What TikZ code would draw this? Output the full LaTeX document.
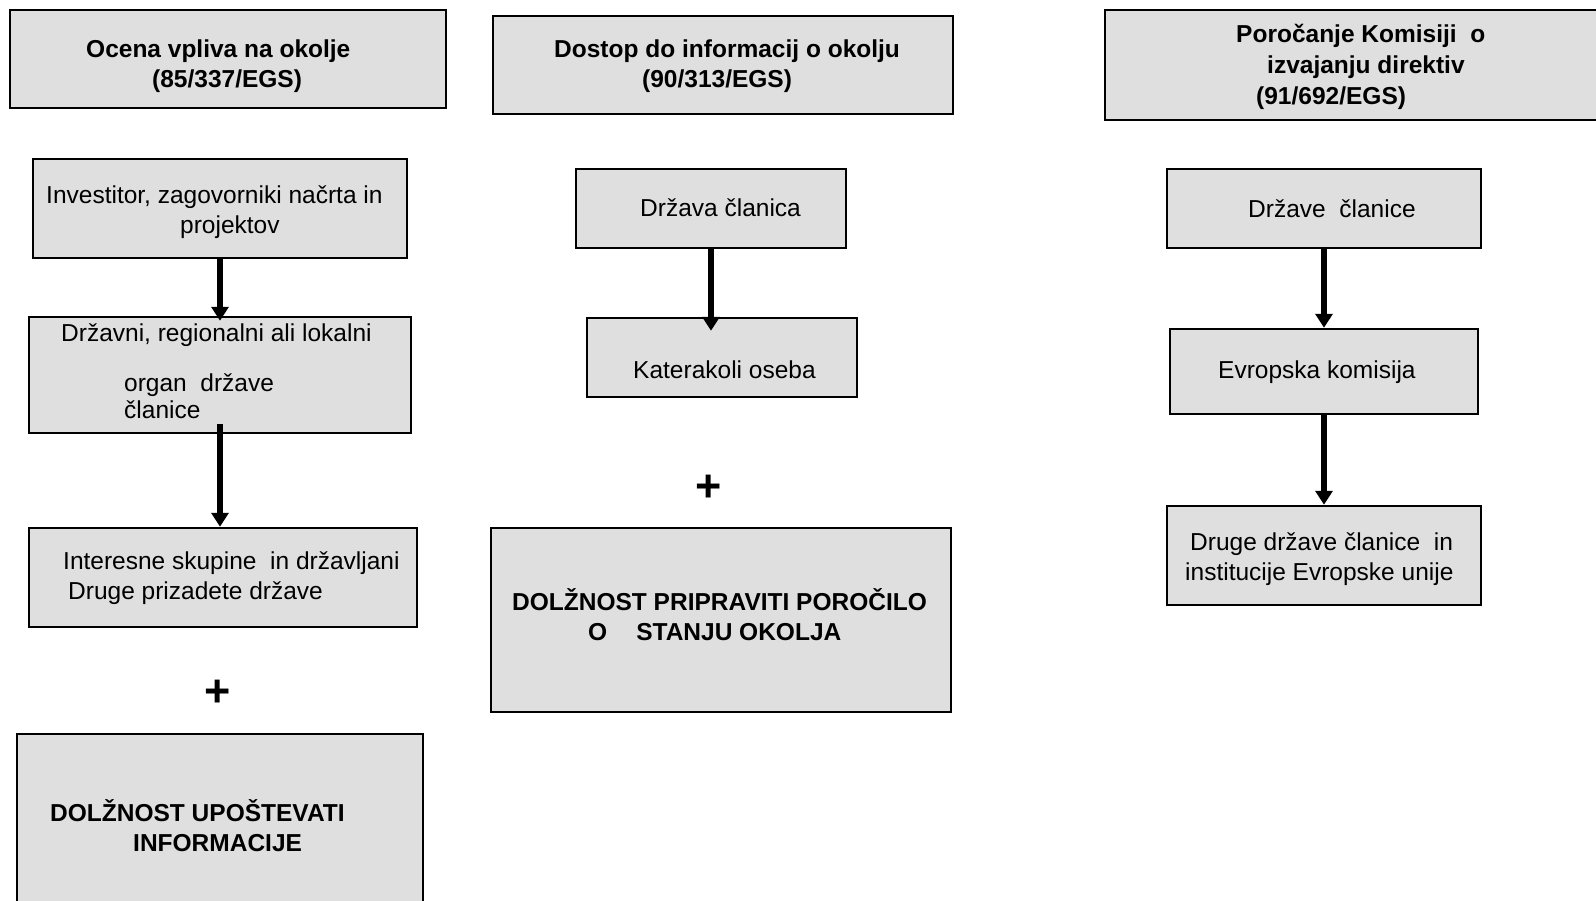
\documentclass[tikz,border=0pt]{standalone}
\usepackage{fontspec}
\setmainfont{Liberation Sans}
\usetikzlibrary{arrows.meta,calc}

\definecolor{boxgray}{RGB}{223,223,223}

\begin{document}
\begin{tikzpicture}[x=1pt, y=-1pt,
  box/.style={draw=black, fill=boxgray, line width=2.5pt, inner sep=0pt},
  arr/.style={line width=6pt, -{Triangle[width=17pt,length=14pt]}},
  txt/.style={anchor=north west, inner sep=0pt, align=left,
    execute at begin node=\strut, font=\fontsize{24.5}{30}\selectfont},
  hdr/.style={txt, font=\fontsize{24.5}{30}\selectfont\bfseries},
  plus/.style={inner sep=0pt, font=\fontsize{45}{45}\selectfont\bfseries}]
  \useasboundingbox (0,0) rectangle (1596,900);

  % Column 1: Ocena vpliva na okolje
  \node[box, minimum width=436pt, minimum height=98pt] (a1) at (228,59) {};
  \node[box, minimum width=374pt, minimum height=99pt] (a2) at (220,208.5) {};
  \node[box, minimum width=382pt, minimum height=116pt] (a3) at (220,375) {};
  \node[box, minimum width=388pt, minimum height=99pt] (a4) at (223,577.5) {};
  \node[box, minimum width=406pt, minimum height=181pt] (a5) at (220,824.5) {};

  % Column 2: Dostop do informacij
  \node[box, minimum width=460pt, minimum height=98pt] (b1) at (723,65) {};
  \node[box, minimum width=270pt, minimum height=79pt] (b2) at (711,208.5) {};
  \node[box, minimum width=270pt, minimum height=79pt] (b3) at (722,357.5) {};
  \node[box, minimum width=460pt, minimum height=184pt] (b4) at (721,620) {};

  % Column 3: Porocanje Komisiji
  \node[box, minimum width=515pt, minimum height=110pt] (c1) at (1362.5,65) {};
  \node[box, minimum width=314pt, minimum height=79pt] (c2) at (1324,208.5) {};
  \node[box, minimum width=308pt, minimum height=85pt] (c3) at (1324,371.5) {};
  \node[box, minimum width=314pt, minimum height=99pt] (c4) at (1324,555.5) {};

  % Arrows
  \draw[arr] (a2.south) -- ([yshift=-5pt]a3.north);
  \draw[arr] ([yshift=10pt]a3.south) -- (a3.south |- a4.north);
  \draw[arr] (b2.south) -- ($(b2.south |- b3.north)+(0,14)$);
  \draw[arr] (c2.south) -- (c3.north);
  \draw[arr] (c3.south) -- (c4.north);

  % Texts
  \node[hdr] (a1t) at (86,40) {Ocena vpliva na okolje\\ \hspace*{66pt}(85/337/EGS)};
  \node[txt] (a2t) at (46,185) {Investitor, zagovorniki načrta in\\ \hspace*{134pt}projektov};
  \node[txt] (a3t) at (61,323) {Državni, regionalni ali lokalni\\[20pt]
    \hspace*{63pt}organ\ \ države\\[-3pt] \hspace*{63pt}članice};
  \node[txt] (a4t) at (63,551) {Interesne skupine\ \ in državljani\\ \hspace*{5pt}Druge prizadete države};
  \node[hdr] (a5t) at (50,799) {DOLŽNOST UPOŠTEVATI\\ \hspace*{83pt}INFORMACIJE};

  \node[hdr] (b1t) at (554,40) {Dostop do informacij o okolju\\ \hspace*{88pt}(90/313/EGS)};
  \node[txt] (b2t) at (640,195) {Država članica};
  \node[txt] (b3t) at (633,357) {Katerakoli oseba};
  \node[hdr] (b4t) at (512,588) {DOLŽNOST PRIPRAVITI POROČILO\\ \hspace*{76pt}O\hspace{29pt}STANJU OKOLJA};

  \node[hdr] (c1t) at (1236,24) {Poročanje Komisiji\ \ o\\[1pt] \hspace*{31pt}izvajanju direktiv\\[1pt] \hspace*{20pt}(91/692/EGS)};
  \node[txt] (c2t) at (1248,196) {Države\ \ članice};
  \node[txt] (c3t) at (1218,357) {Evropska komisija};
  \node[txt] (c4t) at (1185,532) {\hspace*{5pt}Druge države članice\ \ in\\ institucije Evropske unije};

  % Plus signs
  \node[plus] (plusa) at (218,693) {+};
  \node[plus] (plusb) at (709,488) {+};
\end{tikzpicture}
\end{document}
